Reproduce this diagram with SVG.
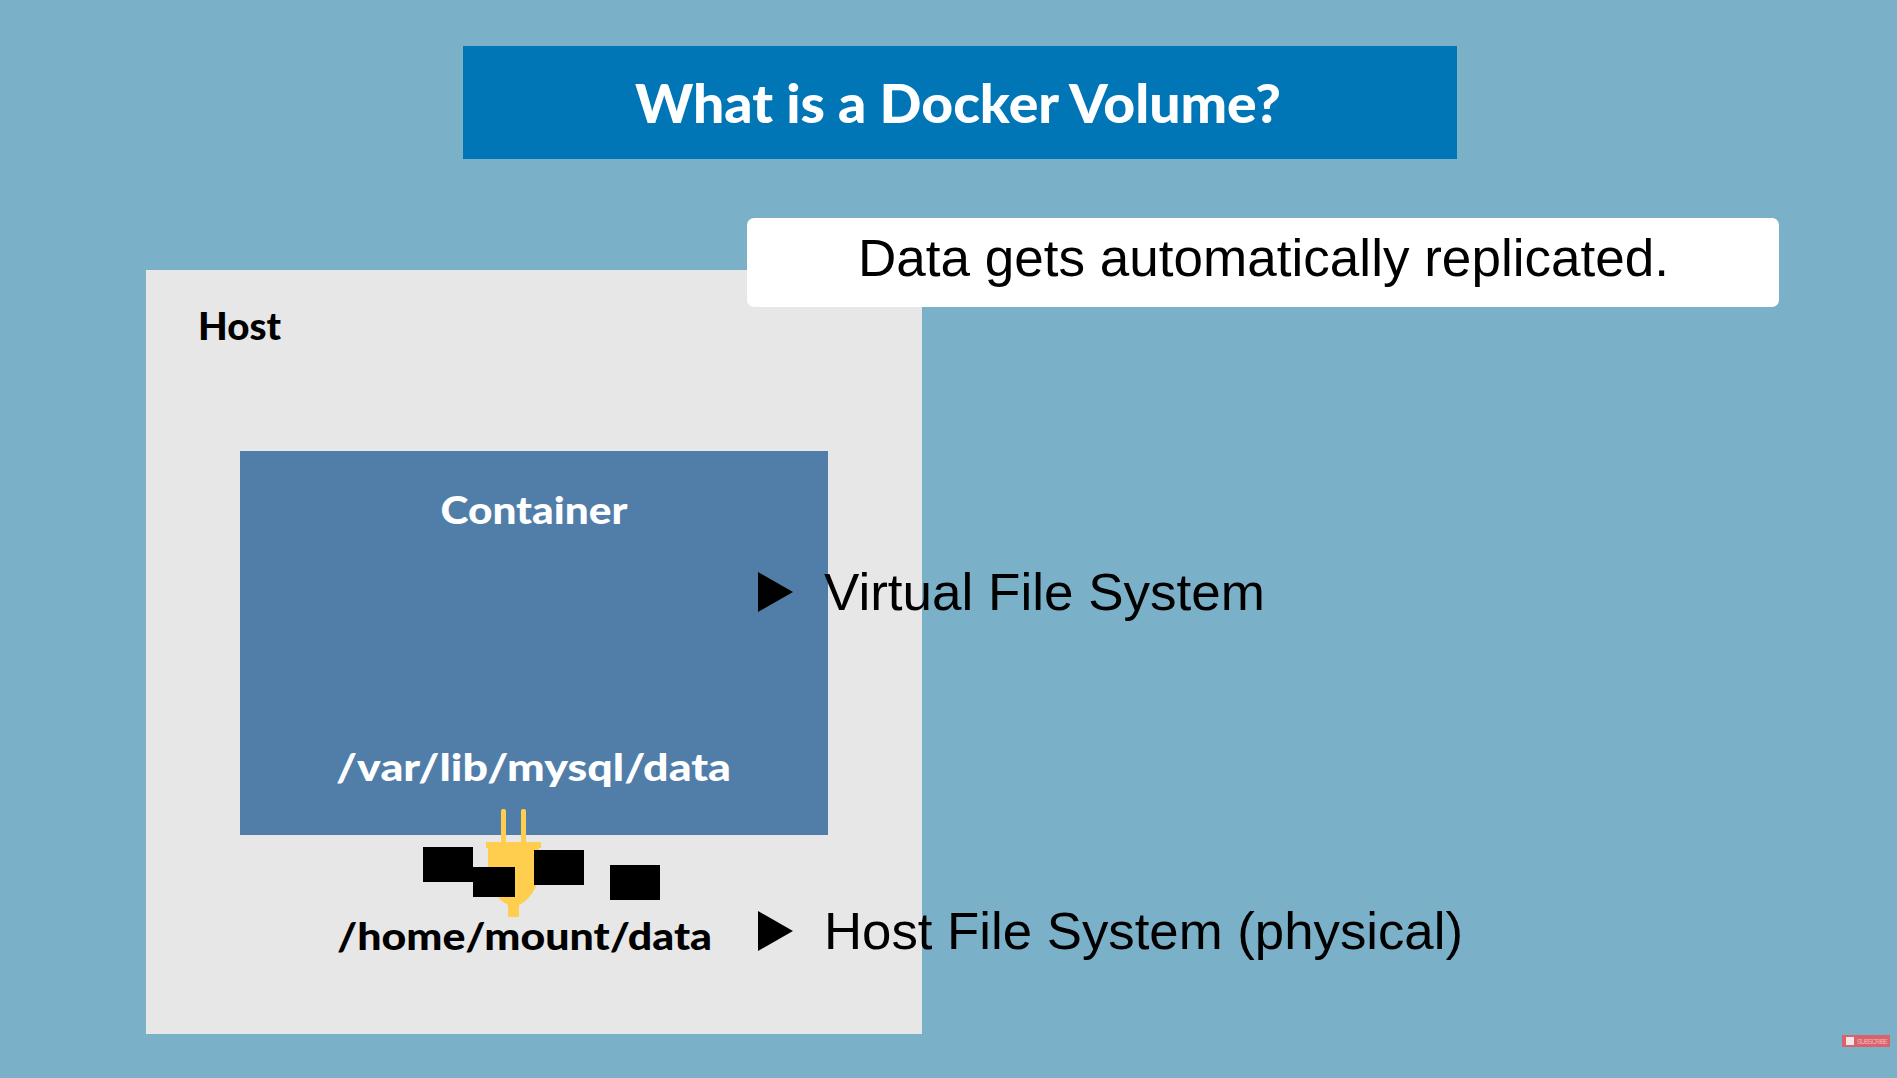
<svg xmlns="http://www.w3.org/2000/svg" width="1897" height="1078" viewBox="0 0 1897 1078">
<style>
.h{font-family:"Lato","Noto Sans",sans-serif;font-weight:900}
.b{font-family:"Liberation Sans",Arial,sans-serif;fill:#000}
.w{fill:#fff}
.k{fill:#000}
</style>
<rect width="1897" height="1078" fill="#7bb1c8"/>
<g id="title"><rect x="463" y="46" width="994" height="113" fill="#0076b6"/>
<text class="h w" x="635" y="123" font-size="54" textLength="646" lengthAdjust="spacingAndGlyphs">What is a Docker Volume?</text></g>
<g id="host"><rect x="146" y="270" width="776" height="764" fill="#e7e7e7"/>
<text class="h k" x="198" y="340" font-size="38" textLength="83" lengthAdjust="spacingAndGlyphs">Host</text></g>
<g id="container"><rect x="240" y="451" width="588" height="384" fill="#507ea8"/>
<text class="h w" x="534" y="524" font-size="38" text-anchor="middle" textLength="187" lengthAdjust="spacingAndGlyphs">Container</text>
<text class="h w" x="336" y="781" font-size="38" textLength="395" lengthAdjust="spacingAndGlyphs">/var/lib/mysql/data</text></g>
<g id="note"><rect x="747" y="218" width="1032" height="89" rx="7" fill="#fff"/>
<text class="b" x="858" y="276" font-size="51" textLength="811" lengthAdjust="spacingAndGlyphs">Data gets automatically replicated.</text></g>
<g id="plug" fill="#ffce4f"><rect x="501" y="809" width="5" height="36" rx="2"/><rect x="521" y="809" width="5" height="36" rx="2"/><path d="M486 842h55v6h-2v20a36 38 0 0 1-20 37v12h-11v-12a36 38 0 0 1-20-37v-20h-2z"/></g>
<g id="redactions" class="k"><rect x="423" y="847" width="50" height="35"/><rect x="473" y="867" width="42" height="30"/><rect x="534" y="850" width="50" height="35"/><rect x="610" y="865" width="50" height="35"/></g>
<g id="host-path"><text class="h k" x="337" y="950" font-size="38" textLength="375" lengthAdjust="spacingAndGlyphs">/home/mount/data</text></g>
<g id="virtual-fs"><path class="k" d="M758 572l35 20-35 20z"/><text class="b" x="824" y="610" font-size="52" textLength="441" lengthAdjust="spacingAndGlyphs">Virtual File System</text></g>
<g id="host-fs"><path class="k" d="M758 911l35 20-35 20z"/><text class="b" x="824" y="949" font-size="52" textLength="639" lengthAdjust="spacingAndGlyphs">Host File System (physical)</text></g>
<g id="subscribe"><rect x="1842" y="1035" width="48" height="12" fill="#d9626b"/><rect x="1846" y="1037" width="8" height="8" fill="#f6e6e6"/><text x="1857" y="1044" font-family="Liberation Sans,sans-serif" font-size="6.500" fill="#eeb8bc" textLength="31">SUBSCRIBE</text></g>
</svg>
